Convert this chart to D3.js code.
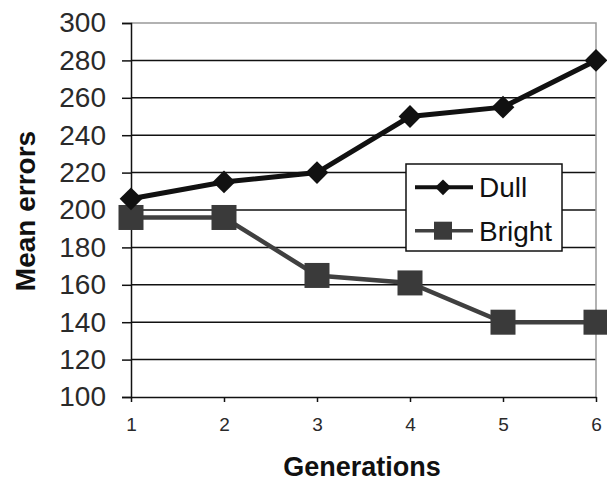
<!DOCTYPE html>
<html>
<head>
<meta charset="utf-8">
<script src="https://cdn.jsdelivr.net/npm/d3@7"></script>
<style>
  body { margin: 0; background: #fff; }
  svg { display: block; font-family: Arial, "Liberation Sans", sans-serif; }
</style>
</head>
<body>
<script>
// chart values
const generations = [1, 2, 3, 4, 5, 6];
const dull = [206, 215, 220, 250, 255, 280];
const bright = [196, 196, 165, 161, 140, 140];
const yTicks = [100, 120, 140, 160, 180, 200, 220, 240, 260, 280, 300];
const seriesNames = ['Dull', 'Bright'];

const width = 607, height = 483;
const margin = {top: 23, right: 11, bottom: 86, left: 131};

const x = d3.scaleLinear()
  .domain([1, 6])
  .range([margin.left, width - margin.right]);

const y = d3.scaleLinear()
  .domain([100, 300])
  .range([height - margin.bottom, margin.top]);

const svg = d3.select("body").append("svg")
  .attr("width", width)
  .attr("height", height);

// gridlines
svg.append("g")
  .selectAll("line")
  .data(yTicks.filter(d => d > 100 && d < 300))
  .join("line")
    .attr("x1", margin.left)
    .attr("x2", width - margin.right)
    .attr("y1", d => y(d))
    .attr("y2", d => y(d))
    .attr("stroke", "#111")
    .attr("stroke-width", 1.5);

// top and right border (gray)
svg.append("path")
  .attr("d", `M${margin.left},${y(300)}H${x(6)}V${y(100)}`)
  .attr("fill", "none")
  .attr("stroke", "#999")
  .attr("stroke-width", 1.5);

// y axis
const yAxis = g => g
  .attr("transform", `translate(${margin.left},0)`)
  .call(d3.axisLeft(y).tickValues(yTicks).tickSize(9).tickPadding(16))
  .call(g => g.select(".domain").attr("stroke", "#111").attr("stroke-width", 1.5))
  .call(g => g.selectAll(".tick line").attr("stroke", "#111").attr("stroke-width", 1.5))
  .call(g => g.selectAll(".tick text")
      .attr("font-size", 28)
      .attr("fill", "#2a2a2a")
      .attr("font-family", "Arial, 'Liberation Sans', sans-serif"));

// x axis
const xAxis = g => g
  .attr("transform", `translate(0,${y(100)})`)
  .call(d3.axisBottom(x).tickValues(generations).tickFormat(d3.format("d")).tickSize(5).tickPadding(16).tickSizeOuter(0))
  .call(g => g.select(".domain").attr("stroke", "#111").attr("stroke-width", 1.5))
  .call(g => g.selectAll(".tick line").attr("stroke", "#111").attr("stroke-width", 1.5))
  .call(g => g.selectAll(".tick text")
      .attr("font-size", 19)
      .attr("fill", "#2a2a2a")
      .attr("font-family", "Arial, 'Liberation Sans', sans-serif"));

svg.append("g").call(yAxis);
svg.append("g").call(xAxis);

// axis titles
svg.append("text")
  .attr("x", 362)
  .attr("y", 476)
  .attr("text-anchor", "middle")
  .attr("font-size", 27)
  .attr("font-weight", "bold")
  .attr("fill", "#111")
  .text("Generations");

svg.append("text")
  .attr("transform", "translate(35,211) rotate(-90)")
  .attr("text-anchor", "middle")
  .attr("font-size", 28)
  .attr("font-weight", "bold")
  .attr("fill", "#111")
  .text("Mean errors");

const line = d3.line()
  .x((d, i) => x(generations[i]))
  .y(d => y(d));

const diamond = d3.symbol().type(d3.symbolDiamond2).size(330);

// bright series
svg.append("path")
  .datum(bright)
  .attr("d", line)
  .attr("fill", "none")
  .attr("stroke", "#404040")
  .attr("stroke-width", 4.5);

svg.append("g")
  .selectAll("rect")
  .data(bright)
  .join("rect")
    .attr("x", (d, i) => x(generations[i]) - 12.5)
    .attr("y", d => y(d) - 12.5)
    .attr("width", 25)
    .attr("height", 25)
    .attr("fill", "#3a3a3a");

// dull series
svg.append("path")
  .datum(dull)
  .attr("d", line)
  .attr("fill", "none")
  .attr("stroke", "#111")
  .attr("stroke-width", 5);

svg.append("g")
  .selectAll("path")
  .data(dull)
  .join("path")
    .attr("transform", (d, i) => `translate(${x(generations[i])},${y(d)})`)
    .attr("d", diamond)
    .attr("fill", "#111");

// legend
const legend = svg.append("g").attr("transform", "translate(406,164)");
legend.append("rect")
  .attr("width", 156)
  .attr("height", 87)
  .attr("fill", "#fff")
  .attr("stroke", "#111")
  .attr("stroke-width", 1.5);

const items = legend.selectAll("g.item")
  .data(seriesNames)
  .join("g")
    .attr("class", "item")
    .attr("transform", (d, i) => `translate(0,${23.3 + i * 43.4})`);

items.append("line")
  .attr("x1", 9)
  .attr("x2", 67)
  .attr("stroke", (d, i) => i === 0 ? "#111" : "#404040")
  .attr("stroke-width", (d, i) => i === 0 ? 4 : 3.5);

items.filter((d, i) => i === 0).append("path")
  .attr("transform", "translate(37,0)")
  .attr("d", d3.symbol().type(d3.symbolDiamond2).size(160))
  .attr("fill", "#111");

items.filter((d, i) => i === 1).append("rect")
  .attr("x", 28)
  .attr("y", -9)
  .attr("width", 18)
  .attr("height", 18)
  .attr("fill", "#3a3a3a");

items.append("text")
  .attr("x", 73)
  .attr("y", 10)
  .attr("font-size", 28)
  .attr("fill", "#111")
  .text(d => d);
</script>
</body>
</html>
